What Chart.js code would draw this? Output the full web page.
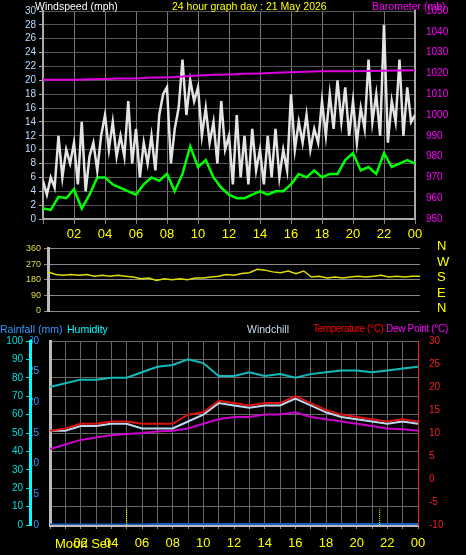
<!DOCTYPE html>
<html><head><meta charset="utf-8">
<script src="https://cdn.jsdelivr.net/npm/chart.js@4"></script>
<style>
body{margin:0;background:#000;width:466px;height:555px;overflow:hidden;position:relative;font-family:"Liberation Sans",Arial,sans-serif}
canvas{position:absolute;left:0}
.t{position:absolute;font-size:10.5px;white-space:nowrap;line-height:12px;z-index:2}
</style></head><body>
<canvas id="c1" width="466" height="245" style="top:0"></canvas>
<canvas id="c2" width="466" height="80" style="top:240px"></canvas>
<canvas id="c3" width="466" height="225" style="top:330px"></canvas>
<div class="t" style="left:35px;top:0;color:#fff">Windspeed (mph)</div>
<div class="t" style="left:172px;top:0;color:#ff0">24 hour graph day : 21 May 2026</div>
<div class="t" style="left:372px;top:0;color:#f0f">Barometer (mb)</div>
<div class="t" style="left:0;top:323px;color:#39f">Rainfall (mm)</div>
<div class="t" style="left:67px;top:323px;color:#0ff">Humidity</div>
<div class="t" style="left:247px;top:323px;color:#cde">Windchill</div>
<div class="t" style="left:313px;top:323px;color:#f00;font-size:10px;letter-spacing:-0.4px">Temperature (°C)</div>
<div class="t" style="left:386px;top:323px;color:#f0f;font-size:10px;letter-spacing:-0.3px">Dew Point (°C)</div>
<div class="t" style="left:437px;top:238px;color:#ff0;font-size:13px;line-height:15.5px">N<br>W<br>S<br>E<br>N</div>
<div class="t" style="left:55px;top:536px;color:#ff0;font-size:13px;line-height:15px">Moon Set</div>
<script>
const hours49=[];for(let i=0;i<=48;i++)hours49.push(i/2);
const hours97=[];for(let i=0;i<=96;i++)hours97.push(i/4);
const hours25=[];for(let i=0;i<=24;i++)hours25.push(i);
const windAvg=[1.5,1.3,3.2,3,4.3,1.5,3.5,6,6,5,4.5,4,3.5,5,6,5.5,6.5,4,6.5,10.5,7.5,8.5,6,4.5,3.5,3,3,3.5,4,3.5,4,4,5,6.5,6,7,6,6.5,6.5,8.5,9.5,7,7.5,6.5,9.5,7.5,8,8.5,8];
const windGust=[5.5,3.5,6,4.5,12,6,10,8,11,5,14,4,9,11,7,12,15,10,14,9,12,9,17,8,13,6,11,8,12,7,15,18,19,8,13,16,23,15,20,17,19,12,16,11,14,8,17,10,12,5,15,6,12,5,13,7,10,5,12,6,13,6,10,7,18,10,14,11,15,10,13,11,17,12,18,13,20,14,19,12,17,11,16,13,23,14,18,12,28,11,17,14,23,12,19,14,15];
const baro=[1017,1017,1017,1017.2,1017.3,1017.5,1017.5,1018,1018,1018.5,1019,1019.3,1019.5,1019.8,1020,1020.3,1020.5,1020.8,1021,1021,1021,1021.2,1021.3,1021.4,1021.5];
const windDir=[225,210,205,210,205,210,200,205,200,205,200,195,185,190,175,185,180,185,180,190,190,195,200,210,205,215,220,240,235,225,220,230,215,230,195,200,190,195,190,195,200,195,200,205,195,200,195,200,200];
const humidity=[75,77,79,79,80,80,83,86,87,90,88,81,81,83,81,82,80,82,83,84,84,83,84,85,86];
const temperature=[10.5,11,12,12,12.5,12.5,12,12,12,14,14.5,17,16.5,16,16.5,16.5,18,16.5,15,14,13.5,13,12.5,13,12.5];
const windchill=[10.5,10.5,11.5,11.5,12,12,11,11,11,12.5,14,16.5,16,15.5,16,16,17.5,16,14.5,13.5,13,12.5,12,12.5,12];
const dewPoint=[6.5,7.5,8.5,9,9.5,9.8,10,10.3,10.5,11,12,13,13.5,13.5,14,14,14.5,13.5,13,12.5,12,11.5,11,10.8,10.5];
const rainfall=[0,0,0,0,0,0,0,0.1,0.1,0.1,0.1,0.1,0.1,0.1,0.1,0.1,0.1,0.1,0.1,0.1,0.1,0.1,0.1,0.1,0.1];
const hourTicks=['00','02','04','06','08','10','12','14','16','18','20','22','00'];

Chart.defaults.animation=false;
Chart.defaults.font.family='"Liberation Sans",Arial,sans-serif';
Chart.defaults.font.size=11;
const pts=(xs,ys)=>xs.map((x,i)=>({x,y:ys[i]}));
const fixW=w=>function(s){s.width=w;};
const fixH=h=>function(s){s.height=h;};
const noLegend={legend:{display:false},tooltip:{enabled:false}};
const stepTicks=(a,b,st)=>s=>{s.ticks=[];for(let v=a;v<=b;v+=st)s.ticks.push({value:v});};
const plain=v=>String(v);

new Chart('c1',{type:'line',data:{datasets:[
 {data:pts(hours25,baro),yAxisID:'yb',borderColor:'#d0d',borderWidth:2,pointRadius:0},
 {data:pts(hours97,windGust),yAxisID:'y',borderColor:'#e4e4e4',borderWidth:2.5,pointRadius:0},
 {data:pts(hours49,windAvg),yAxisID:'y',borderColor:'#0f0',borderWidth:2.5,pointRadius:0}]},
 options:{responsive:false,layout:{padding:{top:11}},plugins:noLegend,scales:{
  x:{type:'linear',min:0,max:24,afterBuildTicks:stepTicks(0,24,2),
     ticks:{color:'#ff0',font:{size:13},autoSkip:false,maxRotation:0,callback:v=>v===0?'':hourTicks[v/2]},
     grid:{color:'#777',tickColor:'#888',tickLength:5},border:{color:'#aaa',width:2},afterFit:fixH(26)},
  y:{min:0,max:30,position:'left',afterBuildTicks:stepTicks(0,30,2),
     ticks:{color:'#bdf',font:{size:10},autoSkip:false,callback:plain},grid:{color:'#555',tickColor:'#aaa',tickLength:4},border:{color:'#aaa',width:2},afterFit:fixW(43)},
  yb:{min:950,max:1050,position:'right',afterBuildTicks:stepTicks(950,1050,10),
     ticks:{color:'#f0f',font:{size:10},autoSkip:false,callback:plain},grid:{display:false},border:{color:'#aaa',width:2},afterFit:fixW(51)}}}});
new Chart('c2',{type:'line',data:{datasets:[
 {data:pts(hours49,windDir),borderColor:'#dd0',borderWidth:1.5,pointRadius:0}]},
 options:{responsive:false,layout:{padding:{top:6,bottom:9}},plugins:noLegend,scales:{
  x:{type:'linear',min:0,max:24,display:false},
  y:{min:0,max:360,afterBuildTicks:stepTicks(0,360,90),
     ticks:{color:'#dd4',font:{size:9},autoSkip:false},grid:{color:'#888',tickLength:4},border:{color:'#bbb',width:3},afterFit:fixW(48)},
  yr:{position:'right',display:true,ticks:{display:false},grid:{display:false},border:{display:false},afterFit:fixW(46)}}}});
const moonPlugin={id:'moon',afterDatasetsDraw(c){const x=c.scales.x,y=c.scales.yh,ctx=c.ctx;ctx.save();ctx.strokeStyle='#ff0';ctx.setLineDash([1,1]);ctx.lineWidth=1;
 [5,21.5].forEach(h=>{const px=x.getPixelForValue(h);ctx.beginPath();ctx.moveTo(px,y.getPixelForValue(0));ctx.lineTo(px,y.getPixelForValue(9));ctx.stroke();});ctx.restore();}};
new Chart('c3',{type:'line',plugins:[moonPlugin],data:{datasets:[
 {data:pts(hours25,humidity),yAxisID:'yh',borderColor:'#1bb',borderWidth:2,pointRadius:0},
 {data:pts(hours25,dewPoint),yAxisID:'yt',borderColor:'#c0c',borderWidth:2,pointRadius:0},
 {data:pts(hours25,temperature),yAxisID:'yt',borderColor:'#d11',borderWidth:2,pointRadius:0},
 {data:pts(hours25,windchill),yAxisID:'yt',borderColor:'#bcd8f0',borderWidth:2,pointRadius:0},
 {data:pts(hours25,rainfall),yAxisID:'yr',borderColor:'#1560c0',borderWidth:3,pointRadius:0}]},
 options:{responsive:false,layout:{padding:{top:11}},plugins:noLegend,scales:{
  x:{type:'linear',min:0,max:24,afterBuildTicks:stepTicks(0,24,1),
     ticks:{color:'#ff0',font:{size:13},padding:7,autoSkip:false,maxRotation:0,callback:v=>(v%2===0&&v>=2)?hourTicks[v/2]:''},
     grid:{color:'#666',tickColor:'#888',tickLength:4},border:{color:'#bbb',width:3},afterFit:fixH(30)},
  yr:{min:0,max:30,position:'left',afterBuildTicks:stepTicks(0,30,5),
     ticks:{color:'#39f',font:{size:10},autoSkip:false},grid:{display:false},border:{color:'#bbb',width:3},afterFit:fixW(20)},
  yh:{min:0,max:100,position:'left',afterBuildTicks:stepTicks(0,100,10),
     ticks:{color:'#0dd',font:{size:10},autoSkip:false},grid:{color:'#666',tickColor:'#0dd',tickLength:4},border:{color:'#0ff',width:3},afterFit:fixW(30)},
  yt:{min:-10,max:30,position:'right',afterBuildTicks:stepTicks(-10,30,5),
     ticks:{color:'#e22',font:{size:10},autoSkip:false},grid:{display:false},border:{color:'#e22',width:1},afterFit:fixW(48)}}}});
</script></body></html>
